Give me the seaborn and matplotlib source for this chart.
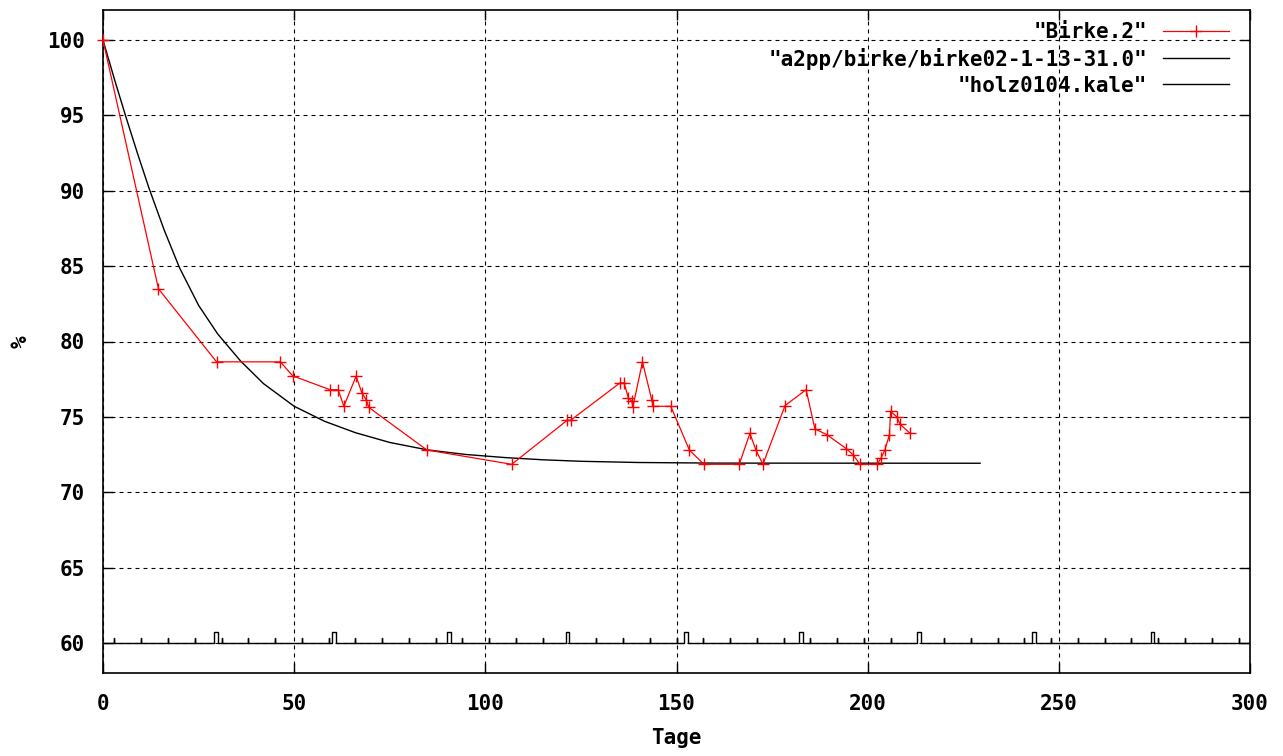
import matplotlib
matplotlib.use("Agg")
import matplotlib.pyplot as plt
import seaborn as sns
import numpy as np

# ---------------- data ----------------
birke_x = [0, 14.5, 29.7, 46.4, 49.6, 59.4, 61.5, 63.0, 66.2, 67.7, 68.9, 69.5, 84.7,
           106.9, 121.4, 122.3, 135.2, 136.3, 137.4, 138.3, 138.6, 141.1, 143.5, 143.9,
           148.5, 153.4, 157.2, 166.4, 169.2, 170.8, 172.6, 178.4, 183.9, 186.2, 189.3,
           194.4, 196.1, 198.0, 202.5, 203.5, 204.5, 205.7, 206.0, 207.6, 208.5, 211.1]
birke_y = [100, 83.5, 78.65, 78.65, 77.72, 76.8, 76.8, 75.7, 77.7, 76.6, 76.1, 75.63, 72.8,
           71.85, 74.77, 74.77, 77.25, 77.25, 76.26, 76.04, 75.66, 78.65, 76.15, 75.7,
           75.7, 72.78, 71.85, 71.85, 73.9, 72.78, 71.85, 75.75, 76.8, 74.2, 73.82,
           72.89, 72.5, 71.85, 71.85, 72.27, 72.8, 73.82, 75.37, 75.0, 74.5, 73.9]

model_x = [0, 3, 6, 9, 12, 16, 20, 25, 30, 36, 42, 50, 58, 66, 75, 85, 95, 105,
           115, 125, 140, 160, 229.4]
model_y = [100, 97.4, 94.9, 92.5, 90.2, 87.4, 84.9, 82.4, 80.5, 78.7, 77.2, 75.7, 74.7,
           73.95, 73.3, 72.8, 72.5, 72.3, 72.15, 72.05, 71.97, 71.93, 71.92]

# time-marker series "holz0104.kale": baseline with weekly ticks and monthly pulses
holz_base = 60
holz_start, holz_end = 0, 300
week_ticks = [3, 10, 17, 24, 31, 38, 45, 52, 59, 66, 73, 80, 87, 94, 101, 108, 115,
              129, 136, 143, 150, 157, 164, 171, 178, 185, 192, 199, 206, 220, 227,
              234, 241, 248, 255, 262, 269, 276, 283, 290, 297]
month_marks = [29, 60, 90, 121, 152, 182, 213, 243, 274]
tick_h = 0.35
pulse_h = 0.7
pulse_w = 1.0

labels = ['"Birke.2"', '"a2pp/birke/birke02-1-13-31.0"', '"holz0104.kale"']

# build holz polyline from the marker lists
events = [(t, 't') for t in week_ticks] + [(m, 'm') for m in month_marks]
events.sort()
hx, hy = [holz_start], [holz_base]
for pos, kind in events:
    if kind == 't':
        hx += [pos, pos, pos]
        hy += [holz_base, holz_base + tick_h, holz_base]
    else:
        hx += [pos, pos, pos + pulse_w, pos + pulse_w]
        hy += [holz_base, holz_base + pulse_h, holz_base + pulse_h, holz_base]
hx.append(holz_end)
hy.append(holz_base)

# ---------------- plot ----------------
plt.rcParams['font.family'] = ['DejaVu Sans Mono', 'DejaVu Sans']
plt.rcParams['font.weight'] = 'bold'
FS = 15

fig = plt.figure(figsize=(12.83, 7.56), dpi=100)
ax = fig.add_axes([103 / 1283, 1 - 673 / 756, 1147 / 1283, 663 / 756])

sns.lineplot(x=birke_x, y=birke_y, ax=ax, sort=False, estimator=None,
             color='#ff0000', lw=0.9, marker='+', markersize=9,
             markeredgecolor='#ff0000', markeredgewidth=1.0, label=labels[0],
             clip_on=False, zorder=4)
sns.lineplot(x=model_x, y=model_y, ax=ax, sort=False, estimator=None,
             color='black', lw=1.0, label=labels[1], zorder=3)
sns.lineplot(x=hx, y=hy, ax=ax, sort=False, estimator=None,
             color='black', lw=1.0, label=labels[2], zorder=3)

ax.set_xlim(0, 300)
ax.set_ylim(58, 102)
ax.set_xticks(np.arange(0, 301, 50))
ax.set_yticks(np.arange(60, 101, 5))
ax.grid(True, color='black', linestyle=(0, (3.6, 3.6)), linewidth=0.8)
ax.set_axisbelow(True)

for sp in ax.spines.values():
    sp.set_linewidth(1.2)
    sp.set_color('black')

ax.tick_params(direction='in', length=7, width=1.0, top=True, right=True,
               labelsize=FS, color='black')
ax.tick_params(axis='x', pad=15)
ax.tick_params(axis='y', pad=13)
for lab in ax.get_xticklabels() + ax.get_yticklabels():
    lab.set_fontweight('bold')

ax.set_xlabel('Tage', fontsize=FS, fontweight='bold', labelpad=10)
ax.set_ylabel('%', fontsize=FS, fontweight='bold', labelpad=12)

handles, labs = ax.get_legend_handles_labels()
leg = ax.legend(handles, labs, loc='upper right', bbox_to_anchor=(0.9817, 0.982),
                frameon=False, markerfirst=False, handlelength=3.19,
                handletextpad=0.75, labelspacing=0.28, borderpad=0, borderaxespad=0,
                prop={'weight': 'bold', 'size': FS})

fig.savefig('out.png', dpi=100, facecolor='white')
